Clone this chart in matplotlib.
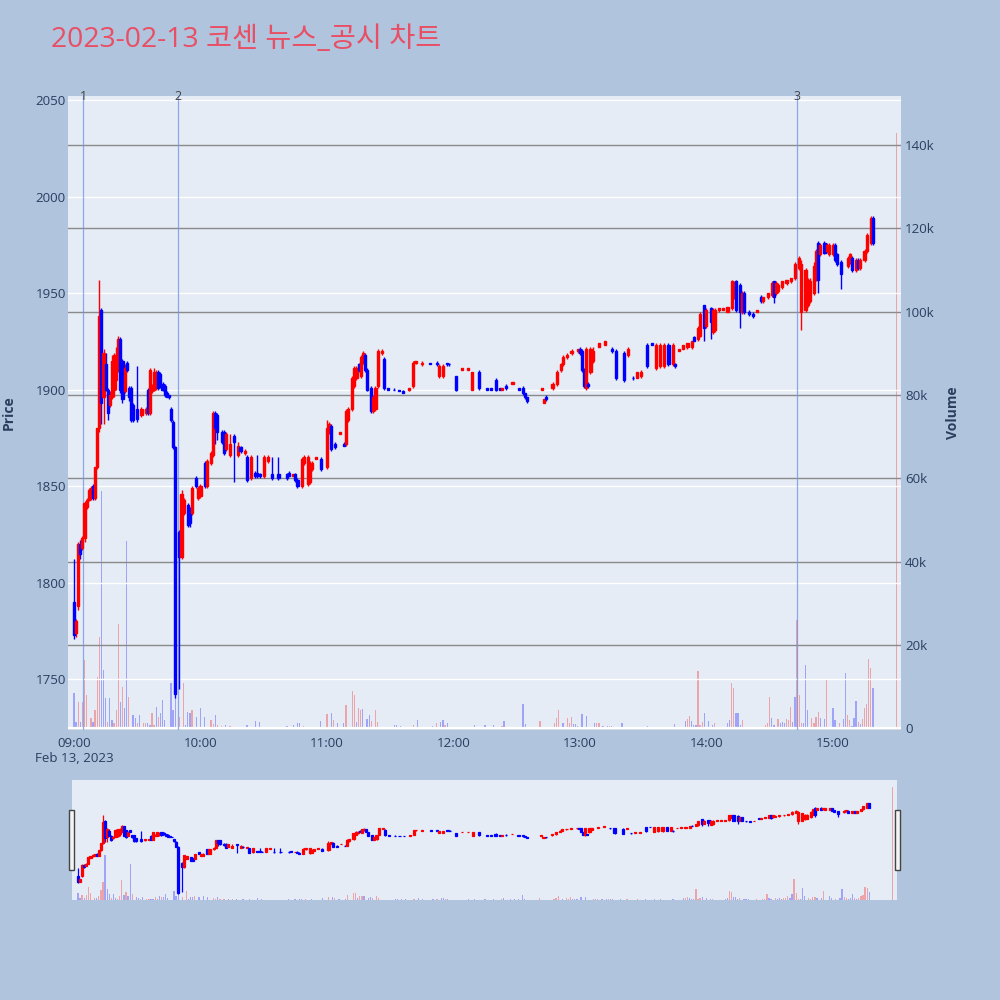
import matplotlib
matplotlib.use('Agg')
import matplotlib.pyplot as plt
from matplotlib.patches import Rectangle
import numpy as np

plt.rcParams['font.family'] = ['Open Sans', 'Noto Sans CJK KR', 'DejaVu Sans']

# minute candles, minutes after 09:00
minutes = [0, 1, 2, 3, 4, 5, 6, 7, 8, 9, 10, 11, 12, 13, 14, 15, 16, 17, 18, 19,
           20, 21, 22, 23, 24, 25, 26, 27, 28, 30, 32, 34, 35, 36, 37, 38, 39, 40, 41, 42,
           43, 44, 45, 46, 47, 48, 50, 51, 52, 54, 55, 56, 58, 59, 60, 62, 63, 65, 66, 67,
           68, 70, 71, 72, 74, 76, 78, 79, 81, 82, 84, 86, 87, 88, 90, 92, 94, 97, 101, 102,
           104, 105, 106, 108, 109, 111, 112, 113, 115, 117, 120, 121, 122, 124, 126, 128, 129, 130, 132, 133,
           134, 135, 136, 137, 138, 139, 141, 142, 143, 144, 146, 147, 149, 152, 154, 156, 159, 161, 162, 165,
           169, 172, 173, 175, 177, 178, 181, 184, 187, 189, 192, 196, 198, 200, 202, 203, 205, 208, 211, 213,
           214, 215, 222, 223, 224, 227, 229, 231, 232, 234, 236, 239, 240, 241, 242, 243, 244, 245, 246, 249,
           252, 255, 257, 261, 263, 265, 267, 269, 272, 274, 276, 278, 280, 282, 284, 285, 287, 289, 291, 293,
           294, 296, 297, 299, 300, 302, 303, 304, 306, 308, 310, 312, 313, 314, 316, 317, 318, 320, 322, 324,
           326, 327, 329, 331, 332, 333, 334, 336, 338, 340, 342, 344, 345, 347, 348, 349, 351, 352, 353, 354,
           356, 357, 358, 360, 361, 362, 364, 367, 368, 369, 371, 372, 373, 375, 376, 378, 379]
opens = [1790, 1774, 1788, 1820, 1818, 1823, 1839, 1843, 1844, 1850, 1844, 1860, 1880, 1941, 1896, 1913, 1900, 1892, 1896, 1900,
         1905, 1910, 1926, 1915, 1899, 1914, 1901, 1901, 1892, 1890, 1887, 1888, 1900, 1888, 1899, 1900, 1901, 1909, 1908, 1903,
         1902, 1898, 1897, 1890, 1883, 1870, 1826, 1813, 1836, 1840, 1838, 1836, 1854, 1844, 1845, 1862, 1850, 1862, 1866, 1888,
         1887, 1878, 1878, 1869, 1866, 1876, 1866, 1870, 1867, 1865, 1854, 1857, 1857, 1856, 1855, 1863, 1856, 1856, 1856, 1857,
         1855, 1856, 1853, 1850, 1862, 1851, 1852, 1859, 1864, 1864, 1860, 1878, 1881, 1872, 1877, 1872, 1872, 1884, 1890, 1902,
         1906, 1913, 1907, 1914, 1918, 1910, 1901, 1889, 1890, 1902, 1919, 1916, 1901, 1900, 1900, 1899, 1900, 1902, 1914, 1913,
         1914, 1914, 1907, 1907, 1914, 1913, 1907, 1910, 1910, 1900, 1909, 1901, 1901, 1905, 1901, 1900, 1902, 1903, 1901, 1901,
         1898, 1896, 1900, 1893, 1896, 1901, 1903, 1910, 1913, 1917, 1919, 1920, 1921, 1920, 1910, 1901, 1903, 1909, 1915, 1922,
         1923, 1921, 1920, 1919, 1918, 1906, 1906, 1907, 1923, 1924, 1911, 1912, 1912, 1923, 1913, 1913, 1920, 1921, 1922, 1922,
         1927, 1926, 1928, 1944, 1933, 1942, 1930, 1931, 1941, 1941, 1940, 1942, 1948, 1956, 1954, 1940, 1950, 1940, 1939, 1940,
         1948, 1946, 1948, 1949, 1956, 1950, 1951, 1953, 1955, 1956, 1958, 1963, 1940, 1941, 1944, 1946, 1950, 1957, 1976, 1970,
         1976, 1972, 1970, 1970, 1975, 1970, 1966, 1964, 1966, 1968, 1962, 1967, 1963, 1967, 1972, 1976, 1989]
highs = [1812, 1781, 1821, 1822, 1824, 1842, 1844, 1849, 1850, 1851, 1860, 1880, 1957, 1942, 1921, 1919, 1901, 1899, 1918, 1919,
         1922, 1928, 1927, 1916, 1913, 1915, 1902, 1902, 1893, 1912, 1891, 1891, 1901, 1911, 1903, 1911, 1910, 1910, 1909, 1904,
         1903, 1899, 1897, 1891, 1884, 1871, 1827, 1848, 1844, 1841, 1839, 1850, 1855, 1850, 1851, 1863, 1864, 1868, 1889, 1889,
         1888, 1879, 1879, 1878, 1877, 1877, 1873, 1871, 1869, 1866, 1866, 1858, 1866, 1857, 1866, 1866, 1865, 1865, 1857, 1858,
         1856, 1857, 1854, 1865, 1866, 1866, 1863, 1863, 1865, 1865, 1884, 1883, 1882, 1873, 1878, 1873, 1890, 1891, 1907, 1912,
         1912, 1914, 1918, 1920, 1919, 1911, 1902, 1897, 1902, 1921, 1921, 1917, 1901, 1901, 1900, 1900, 1901, 1915, 1915, 1915,
         1914, 1915, 1913, 1913, 1914, 1914, 1907, 1911, 1911, 1909, 1910, 1901, 1901, 1906, 1901, 1901, 1903, 1904, 1901, 1902,
         1898, 1896, 1901, 1895, 1897, 1904, 1910, 1914, 1918, 1919, 1921, 1921, 1922, 1921, 1911, 1922, 1904, 1922, 1922, 1924,
         1925, 1922, 1921, 1920, 1922, 1907, 1909, 1910, 1924, 1924, 1924, 1924, 1924, 1924, 1924, 1914, 1921, 1923, 1924, 1925,
         1928, 1933, 1940, 1944, 1942, 1943, 1942, 1942, 1942, 1942, 1943, 1957, 1956, 1957, 1955, 1951, 1951, 1941, 1940, 1941,
         1949, 1948, 1950, 1956, 1956, 1956, 1955, 1956, 1957, 1958, 1966, 1969, 1967, 1963, 1958, 1958, 1966, 1973, 1977, 1976,
         1977, 1976, 1976, 1976, 1976, 1971, 1967, 1969, 1971, 1969, 1968, 1968, 1968, 1973, 1981, 1990, 1990]
lows = [1771, 1772, 1786, 1812, 1817, 1821, 1838, 1842, 1843, 1843, 1843, 1859, 1878, 1882, 1882, 1899, 1884, 1891, 1895, 1896,
        1900, 1909, 1898, 1893, 1898, 1909, 1894, 1883, 1883, 1883, 1886, 1887, 1887, 1887, 1898, 1899, 1900, 1900, 1901, 1899,
        1896, 1896, 1895, 1883, 1869, 1740, 1745, 1812, 1835, 1829, 1829, 1835, 1849, 1843, 1844, 1849, 1849, 1861, 1865, 1872,
        1874, 1872, 1866, 1868, 1865, 1852, 1865, 1867, 1866, 1852, 1853, 1854, 1854, 1854, 1854, 1862, 1853, 1853, 1853, 1855,
        1855, 1852, 1849, 1849, 1861, 1850, 1851, 1858, 1864, 1858, 1859, 1877, 1868, 1869, 1877, 1871, 1871, 1883, 1889, 1901,
        1905, 1909, 1906, 1913, 1909, 1899, 1888, 1888, 1889, 1901, 1918, 1900, 1900, 1900, 1899, 1898, 1899, 1901, 1913, 1912,
        1913, 1912, 1906, 1906, 1912, 1912, 1899, 1910, 1910, 1900, 1900, 1900, 1900, 1899, 1900, 1900, 1900, 1903, 1900, 1897,
        1895, 1893, 1900, 1893, 1894, 1900, 1902, 1909, 1912, 1916, 1918, 1919, 1918, 1909, 1901, 1900, 1901, 1908, 1914, 1922,
        1923, 1919, 1905, 1904, 1917, 1905, 1906, 1906, 1911, 1923, 1910, 1911, 1911, 1912, 1912, 1911, 1920, 1921, 1921, 1921,
        1925, 1925, 1927, 1925, 1932, 1926, 1929, 1930, 1940, 1941, 1940, 1941, 1947, 1940, 1932, 1939, 1939, 1938, 1937, 1940,
        1945, 1945, 1947, 1948, 1945, 1949, 1950, 1952, 1954, 1955, 1957, 1962, 1931, 1940, 1943, 1945, 1949, 1956, 1950, 1969,
        1970, 1971, 1969, 1969, 1966, 1964, 1952, 1963, 1965, 1961, 1961, 1962, 1962, 1966, 1971, 1975, 1975]
closes = [1773, 1780, 1820, 1815, 1823, 1841, 1843, 1848, 1849, 1844, 1860, 1880, 1938, 1893, 1919, 1900, 1888, 1897, 1915, 1918,
          1916, 1926, 1900, 1895, 1911, 1910, 1896, 1884, 1884, 1885, 1890, 1890, 1888, 1910, 1902, 1909, 1908, 1901, 1903, 1900,
          1897, 1896, 1896, 1884, 1870, 1742, 1813, 1846, 1843, 1830, 1831, 1849, 1850, 1849, 1850, 1850, 1863, 1867, 1888, 1880,
          1878, 1873, 1867, 1877, 1872, 1873, 1871, 1868, 1868, 1853, 1865, 1855, 1855, 1855, 1865, 1865, 1854, 1854, 1854, 1855,
          1856, 1853, 1850, 1864, 1865, 1865, 1861, 1862, 1865, 1859, 1880, 1882, 1869, 1870, 1878, 1871, 1889, 1890, 1906, 1911,
          1911, 1910, 1917, 1919, 1910, 1900, 1889, 1896, 1901, 1920, 1920, 1901, 1900, 1900, 1899, 1898, 1901, 1914, 1915, 1914,
          1913, 1913, 1912, 1912, 1913, 1913, 1900, 1911, 1911, 1909, 1901, 1900, 1900, 1900, 1900, 1901, 1901, 1904, 1900, 1898,
          1896, 1894, 1901, 1895, 1895, 1903, 1909, 1913, 1917, 1918, 1920, 1921, 1919, 1910, 1902, 1921, 1902, 1921, 1920, 1924,
          1925, 1920, 1906, 1905, 1921, 1906, 1909, 1909, 1912, 1923, 1923, 1923, 1923, 1913, 1923, 1912, 1921, 1923, 1924, 1925,
          1925, 1932, 1939, 1932, 1941, 1935, 1941, 1941, 1942, 1942, 1943, 1956, 1955, 1941, 1940, 1950, 1940, 1939, 1938, 1941,
          1946, 1948, 1950, 1955, 1948, 1955, 1954, 1956, 1957, 1958, 1965, 1968, 1965, 1962, 1957, 1956, 1964, 1972, 1957, 1975,
          1971, 1975, 1975, 1975, 1967, 1965, 1960, 1968, 1970, 1962, 1967, 1963, 1967, 1972, 1980, 1989, 1976]

# volume bars: minute, shares, 1 = rising (red) / 0 = falling (blue)
vol_minutes = [0, 1, 2, 3, 4, 5, 6, 8, 9, 10, 11, 12, 13, 14, 15, 16, 17, 18, 19, 20,
               21, 22, 23, 24, 25, 26, 28, 29, 30, 31, 33, 34, 35, 36, 37, 38, 39, 40, 41, 42,
               43, 46, 47, 48, 50, 52, 53, 54, 55, 56, 58, 60, 62, 65, 66, 67, 68, 70, 72, 74,
               76, 79, 82, 86, 88, 101, 104, 106, 107, 109, 112, 117, 120, 122, 123, 125, 128, 129, 132, 133,
               134, 135, 136, 137, 139, 140, 141, 143, 144, 152, 153, 155, 157, 161, 163, 165, 170, 172, 174, 175,
               176, 177, 187, 190, 195, 199, 203, 204, 207, 209, 211, 213, 214, 221, 222, 228, 229, 230, 232, 234,
               235, 236, 237, 238, 239, 241, 242, 243, 244, 247, 248, 249, 251, 253, 254, 255, 256, 260, 263, 268,
               272, 276, 279, 285, 290, 291, 292, 293, 294, 295, 296, 297, 298, 299, 301, 303, 304, 310, 311, 312,
               313, 314, 315, 316, 317, 319, 320, 321, 325, 328, 329, 330, 331, 332, 334, 335, 336, 337, 338, 339,
               340, 341, 342, 343, 344, 345, 346, 347, 348, 350, 351, 352, 353, 354, 356, 357, 360, 361, 363, 365,
               366, 367, 368, 369, 370, 371, 372, 373, 374, 375, 376, 377, 378, 379, 390]
vol_values = [8400, 1600, 6400, 1600, 6400, 16400, 8000, 2400, 1600, 4400, 12400, 22000, 57000, 14000, 7200, 1600, 7200, 2000, 1200, 4400,
              25000, 6400, 10000, 4800, 45000, 7600, 3200, 2400, 1200, 3200, 1400, 1400, 1200, 800, 3800, 800, 5200, 2800, 3600, 6800,
              2000, 10800, 4400, 7600, 2800, 10800, 800, 4000, 3600, 4400, 2800, 4800, 2800, 2000, 1000, 3200, 800, 600, 800, 600,
              300, 300, 800, 1800, 1500, 600, 800, 1200, 1200, 600, 400, 1800, 3400, 3800, 2000, 1200, 1400, 5600, 9000, 8000,
              1600, 4800, 4400, 4600, 2200, 3200, 1800, 4400, 1600, 800, 800, 600, 300, 800, 2000, 400, 600, 1200, 1600, 2000,
              800, 1400, 300, 800, 800, 700, 600, 1800, 400, 300, 300, 5800, 1000, 1800, 200, 1200, 2400, 4400, 1400, 2600,
              1200, 2800, 1000, 1000, 600, 3400, 200, 3000, 200, 1400, 1400, 1400, 600, 600, 600, 600, 300, 1200, 300, 300,
              600, 300, 400, 1000, 1800, 2200, 3000, 1800, 800, 800, 13800, 800, 1600, 3800, 1800, 800, 1200, 1400, 2000, 11000,
              9600, 3800, 3800, 800, 2000, 300, 300, 300, 400, 800, 1200, 7600, 2400, 800, 2200, 1200, 1600, 1400, 2200, 2000,
              5200, 1600, 7600, 26000, 8100, 1200, 1200, 15200, 4400, 2400, 1400, 2800, 4000, 2400, 2200, 11600, 4800, 2000, 1200, 2200,
              13200, 3200, 2000, 600, 2600, 6600, 1600, 1000, 2200, 4800, 5800, 16600, 14400, 9800, 142800]
vol_up = [0, 0, 1, 0, 1, 1, 1, 1, 0, 1, 1, 1, 0, 0, 0, 1, 0, 0, 1, 1,
          1, 0, 1, 0, 0, 1, 0, 0, 1, 0, 1, 1, 0, 0, 1, 1, 0, 1, 0, 0,
          0, 0, 0, 0, 1, 1, 0, 0, 0, 1, 0, 0, 0, 1, 1, 0, 1, 1, 0, 1,
          0, 0, 0, 0, 0, 0, 0, 0, 0, 1, 0, 0, 1, 0, 1, 0, 0, 1, 1, 1,
          0, 1, 1, 0, 0, 0, 1, 1, 1, 0, 0, 0, 0, 1, 0, 0, 0, 1, 0, 0,
          1, 0, 0, 0, 0, 0, 1, 0, 0, 0, 0, 0, 0, 1, 1, 1, 1, 1, 0, 1,
          1, 1, 0, 0, 0, 0, 1, 0, 1, 0, 1, 1, 0, 0, 1, 0, 0, 0, 1, 1,
          0, 0, 0, 0, 0, 1, 1, 0, 0, 0, 1, 1, 1, 0, 0, 0, 1, 0, 0, 1,
          1, 0, 0, 0, 1, 0, 0, 0, 1, 1, 1, 1, 0, 0, 1, 0, 0, 0, 1, 1,
          1, 0, 0, 1, 1, 1, 0, 0, 0, 1, 1, 1, 1, 0, 0, 1, 0, 0, 1, 0,
          0, 1, 1, 0, 0, 0, 1, 0, 1, 1, 1, 1, 1, 0, 1]

event_minutes = [4.3, 49.3, 343.0]
event_labels = ['1', '2', '3']

time_ticks = [0, 60, 120, 180, 240, 300, 360]
time_labels = ['09:00\nFeb 13, 2023', '10:00', '11:00', '12:00', '13:00', '14:00', '15:00']
price_ticks = [1750, 1800, 1850, 1900, 1950, 2000, 2050]
vol_ticks = [0, 20000, 40000, 60000, 80000, 100000, 120000, 140000]
vol_tick_labels = ['0', '20k', '40k', '60k', '80k', '100k', '120k', '140k']

BG = '#B0C4DE'
PLOT_BG = '#E5ECF6'
TXT = '#2a3f5f'
UP = '#FF0000'
DOWN = '#0000FF'

XLIM = (-2.85, 392.3)
PLIM = (1723.6, 2052.1)
VLIM = (-400, 151800)


def draw_candles(axp, lw):
    t = np.array(minutes, dtype=float)
    o = np.array(opens, dtype=float)
    h = np.array(highs, dtype=float)
    lo = np.array(lows, dtype=float)
    c = np.array(closes, dtype=float)
    cols = [UP if cc > oo else DOWN for oo, cc in zip(o, c)]
    axp.vlines(t, lo, h, colors=cols, linewidth=lw, zorder=3)
    axp.bar(t, np.abs(c - o), bottom=np.minimum(o, c), width=1.0,
            color=cols, edgecolor=cols, linewidth=lw, zorder=4)


def draw_volume(axv):
    cols = [UP if u else DOWN for u in vol_up]
    axv.bar(vol_minutes, vol_values, width=0.6, color=cols, alpha=0.3, linewidth=0)


fig = plt.figure(figsize=(10, 10), dpi=100)
fig.patch.set_facecolor(BG)

# main chart
ax = fig.add_axes([0.068, 0.270, 0.833, 0.634])
axv = ax.twinx()
ax.set_zorder(2)
axv.set_zorder(1)
ax.patch.set_visible(False)
axv.patch.set_visible(True)
axv.patch.set_facecolor(PLOT_BG)

draw_volume(axv)
axv.set_ylim(*VLIM)
axv.set_yticks(vol_ticks)
axv.set_yticklabels(vol_tick_labels)
axv.grid(True, axis='y', color='#8a8a8a', linewidth=1.0)
axv.axhline(0, color='white', linewidth=1.6)

draw_candles(ax, 1.0)
for m, lab in zip(event_minutes, event_labels):
    ax.axvline(m, color='#7396e8', linewidth=0.9, alpha=0.8, zorder=2)
    ax.text(m, 1.0, lab, transform=ax.get_xaxis_transform(), ha='center',
            va='center', fontsize=9, color='#444444')

ax.set_xlim(*XLIM)
ax.set_ylim(*PLIM)
ax.set_yticks(price_ticks)
ax.set_xticks(time_ticks)
ax.set_xticklabels(time_labels)
ax.grid(True, axis='y', color='white', linewidth=1.0)
ax.set_axisbelow(True)

for a in (ax, axv):
    for s in a.spines.values():
        s.set_visible(False)
ax.tick_params(axis='y', length=0, pad=1.5, labelsize=9.6, labelcolor=TXT)
ax.tick_params(axis='x', length=0, pad=5, labelsize=9.6, labelcolor=TXT)
axv.tick_params(axis='y', length=0, pad=3, labelsize=9.6, labelcolor=TXT)

# range slider
rs = fig.add_axes([0.072, 0.100, 0.825, 0.120])
rsv = rs.twinx()
rs.set_zorder(2)
rsv.set_zorder(1)
rs.patch.set_visible(False)
rsv.patch.set_visible(True)
rsv.patch.set_facecolor(PLOT_BG)
draw_volume(rsv)
draw_candles(rs, 0.9)
rs.set_xlim(*XLIM)
rs.set_ylim(*PLIM)
rsv.set_ylim(*VLIM)
for a in (rs, rsv):
    a.set_xticks([])
    a.set_yticks([])
    for s in a.spines.values():
        s.set_visible(False)

for hx in (0.069, 0.895):
    fig.patches.append(Rectangle((hx, 0.130), 0.005, 0.060, transform=fig.transFigure,
                                 facecolor='#f4f4f4', edgecolor='#444444', linewidth=1.0))

fig.text(0.051, 0.960, '2023-02-13 코센 뉴스_공시 차트', fontsize=20.4, color='#E94F64',
         ha='left', va='center')
fig.text(0.009, 0.587, 'Price', rotation=90, fontsize=10, fontweight='bold',
         color=TXT, ha='center', va='center')
fig.text(0.953, 0.587, 'Volume', rotation=90, fontsize=10, fontweight='bold',
         color=TXT, ha='center', va='center')

fig.savefig('out.png', dpi=100, facecolor=BG)
